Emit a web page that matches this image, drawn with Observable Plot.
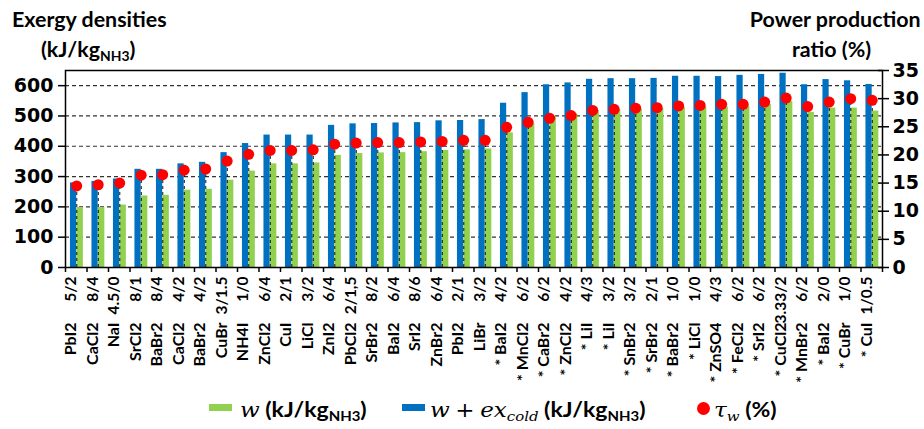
<!DOCTYPE html>
<html>
<head>
<meta charset="utf-8">
<script src="https://cdn.jsdelivr.net/npm/d3@7"></script>
<script src="https://cdn.jsdelivr.net/npm/@observablehq/plot@0.6"></script>
<style>
  html, body { margin: 0; padding: 0; background: #fff; }
  #wrap { position: relative; width: 924px; height: 429px; overflow: hidden; font-family: Lato, "Open Sans", sans-serif; font-weight: bold; color: #000; }
  #chart { position: absolute; left: 0; top: 0; }
  .abs { position: absolute; white-space: nowrap; line-height: 1; }
  .ttl { font-size: 20px; transform: scaleX(1.07); transform-origin: left center; }
  .leg { font-size: 20px; transform: scaleX(1.15); transform-origin: left center; }
  .sub { font-size: 13px; position: relative; top: 4px; }
  .math { font-family: "DejaVu Serif", "Liberation Serif", serif; font-style: italic; font-weight: normal; }
  .sw { position: absolute; width: 23px; height: 7px; }
</style>
</head>
<body>
<div id="wrap">
  <div id="chart"></div>
  <div class="abs ttl" style="left:12px; top:9px;">Exergy densities</div>
  <div class="abs ttl" style="left:41px; top:39px;">(kJ/kg<span class="sub">NH3</span>)</div>
  <div class="abs ttl" style="right:3px; top:9px; transform-origin: right center;">Power production</div>
  <div class="abs ttl" style="left:792px; top:39px;">ratio (%)</div>

  <div class="sw" style="left:209px; top:404px; background:#92D050;"></div>
  <div class="abs leg" style="left:240px; top:399px;"><span class="math">w</span> (kJ/kg<span class="sub">NH3</span>)</div>
  <div class="sw" style="left:402px; top:404px; background:#0070C0;"></div>
  <div class="abs leg" style="left:430px; top:399px;"><span class="math">w</span> <span class="math" style="font-style:normal">+</span> <span class="math">ex<span style="font-size:13px; position:relative; top:4px;">cold</span></span> (kJ/kg<span class="sub">NH3</span>)</div>
  <div class="abs" style="left:697px; top:402px; width:13px; height:13px; border-radius:50%; background:#FF0000;"></div>
  <div class="abs leg" style="left:714px; top:399px;"><span class="math">τ<span style="font-size:13px; position:relative; top:4px;">w</span></span> (%)</div>
</div>
<script>
// ---- data ----
const names = ["PbI2","CaCl2","NaI","SrCl2","BaBr2","CaCl2","BaBr2","CuBr","NH4I","ZnCl2",
  "CuI","LiCl","ZnI2","PbCl2","SrBr2","BaI2","SrI2","ZnBr2","PbI2","LiBr",
  "* BaI2","* MnCl2","* CaBr2","* ZnCl2","* LiI","* LiI","* SnBr2","* SrBr2","* BaBr2","* LiCl",
  "* ZnSO4","* FeCl2","* SrI2","* CuCl2","* MnBr2","* BaI2","* CuBr","* CuI"];
const ratios = ["5/2","8/4","4.5/0","8/1","8/4","4/2","4/2","3/1.5","1/0","6/4",
  "2/1","3/2","6/4","2/1,5","8/2","6/4","8/6","6/4","2/1","3/2",
  "4/2","6/2","6/2","4/2","4/3","3/2","3/2","2/1","1/0","1/0",
  "4/3","6/2","6/2","3.33/2","6/2","2/0","1/0","1/0.5"];
// w (kJ/kg NH3) - green
const wValues = [198,198,206,236,238,255,258,288,318,342,
  342,345,370,376,378,379,382,386,388,391,
  444,474,499,507,518,520,522,525,528,529,
  530,532,538,548,512,526,526,516];
// w + ex_cold (kJ/kg NH3) - blue
const wexValues = [279,284,292,324,324,342,347,379,409,437,
  437,437,469,474,475,477,478,484,485,488,
  542,577,603,609,621,623,623,624,631,631,
  630,634,637,641,603,620,616,604];
// tau_w (%) - red dots, right axis
const tauValues = [14.5,14.7,15.0,16.4,16.5,17.3,17.5,18.9,20.1,20.8,
  20.8,20.9,21.9,22.1,22.2,22.2,22.3,22.4,22.6,22.6,
  24.9,25.8,26.5,27.0,27.9,28.1,28.3,28.4,28.7,28.8,
  29.0,29.0,29.4,30.1,28.6,29.4,30.0,29.7];
const leftTicks = [0,100,200,300,400,500,600];
const rightTicks = [0,5,10,15,20,25,30,35];
const leftMax = 650, rightMax = 35;

const blue = "#0070C0", green = "#92D050", red = "#FF0000";
const k = leftMax / rightMax;
const idx = d3.range(names.length);

const chart = Plot.plot({
  width: 924, height: 392,
  marginTop: 70, marginBottom: 125, marginLeft: 65, marginRight: 42,
  x: {domain: [0, names.length], axis: null},
  y: {domain: [0, leftMax], axis: null},
  style: {fontFamily: "'DejaVu Sans', sans-serif", fontWeight: "bold", fontSize: "19px", color: "black", background: "white"},
  marks: [
    Plot.ruleY(leftTicks.filter(d => d > 0), {stroke: "#333", strokeDasharray: "4,3", strokeWidth: 1.2}),
    Plot.rect(idx, {x1: i => i + 0.23, x2: i => i + 0.52, y1: 0, y2: i => wexValues[i], fill: blue}),
    Plot.rect(idx, {x1: i => i + 0.53, x2: i => i + 0.83, y1: 0, y2: i => wValues[i], fill: green}),
    Plot.ruleX(idx, {x: i => i + 0.525, y1: 0, y2: i => tauValues[i] * k, stroke: "#111", strokeDasharray: "3,3", strokeWidth: 1}),
    Plot.dot(idx, {x: i => i + 0.52, y: i => tauValues[i] * k, r: 5.5, fill: red, stroke: "none"}),
    Plot.frame({stroke: "black", strokeWidth: 1.5}),
    Plot.axisY({anchor: "left", ticks: leftTicks, tickSize: 7, tickPadding: 5, label: null, fontSize: 19, fontWeight: "bold", strokeWidth: 1.5}),
    Plot.axisY({anchor: "right", ticks: rightTicks.map(p => p * k), tickFormat: v => String(Math.round(v / k)), tickSize: 6, tickPadding: 4, label: null, fontSize: 19, fontWeight: "bold", strokeWidth: 1.5}),
    Plot.axisY({anchor: "right", ticks: rightTicks.map(p => p * k), tickFormat: () => "", tickSize: 5, dx: -5, label: null, strokeWidth: 1.5}),
    Plot.axisX({anchor: "bottom", ticks: d3.range(0, names.length + 1), tickFormat: () => "", tickSize: 5, label: null, strokeWidth: 1.5}),
    Plot.text(idx, {x: i => i + 0.5, text: i => ratios[i], frameAnchor: "bottom", dy: 9, rotate: -90, textAnchor: "end",
      fontFamily: "Lato, sans-serif", fontSize: 15.5, fontWeight: "bold"}),
    Plot.text(idx, {x: i => i + 0.5, text: i => names[i], frameAnchor: "bottom", dy: 55, rotate: -90, textAnchor: "end",
      fontFamily: "Lato, sans-serif", fontSize: 16, fontWeight: "bold"})
  ]
});
document.getElementById("chart").appendChild(chart);
</script>
</body>
</html>
